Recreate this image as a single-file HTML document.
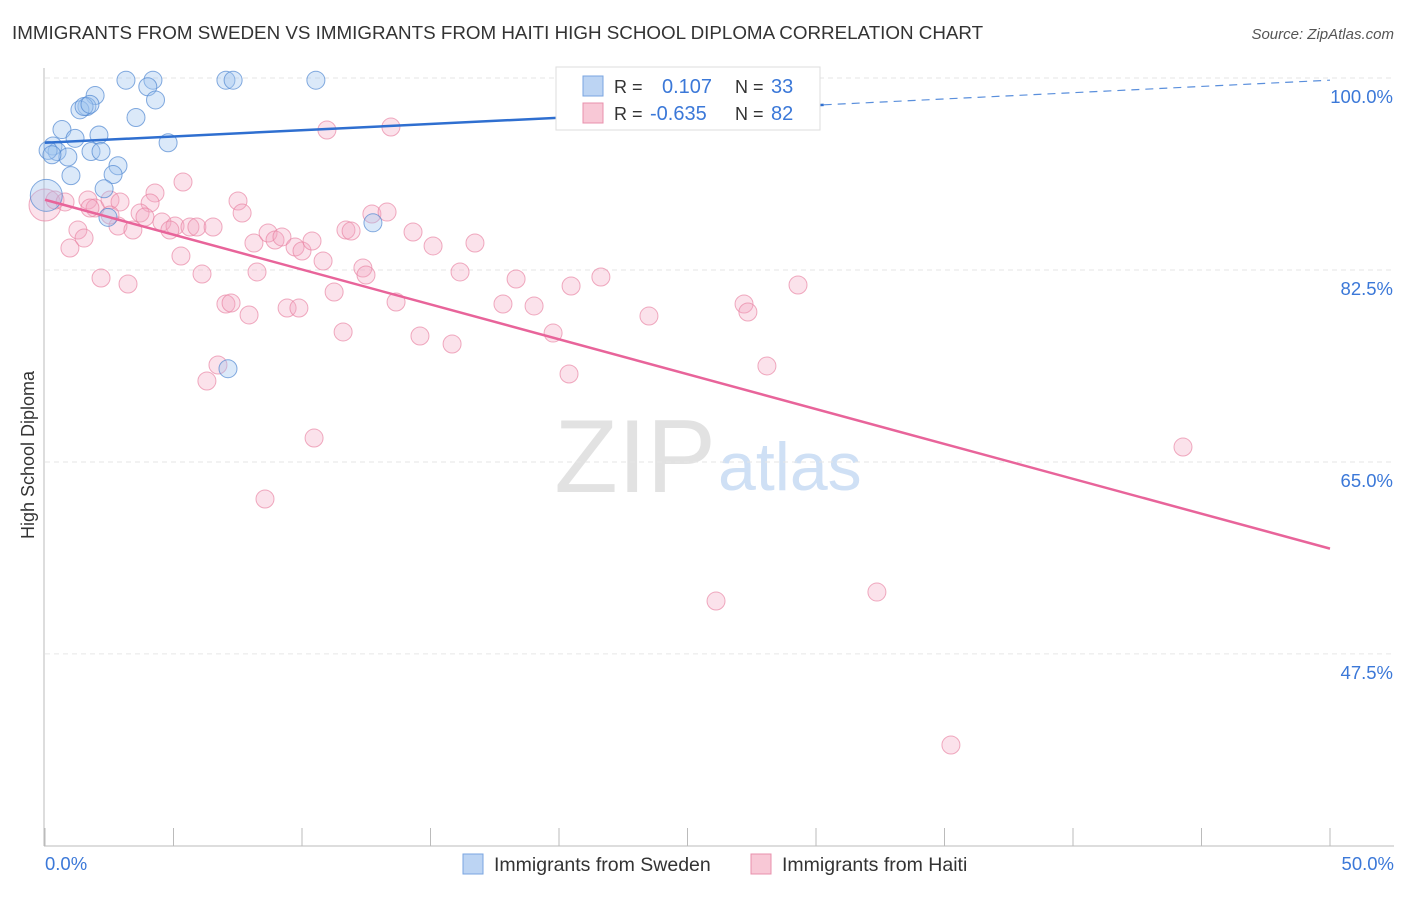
<!DOCTYPE html>
<html><head><meta charset="utf-8"><style>
body{margin:0;background:#fff;font-family:"Liberation Sans",sans-serif;}
svg text{font-family:"Liberation Sans",sans-serif;}
</style></head><body>
<svg id="chart" width="1406" height="892">
<text x="12" y="39" font-size="18.8" fill="#333">IMMIGRANTS FROM SWEDEN VS IMMIGRANTS FROM HAITI HIGH SCHOOL DIPLOMA CORRELATION CHART</text>
<text x="1394" y="39" font-size="15" fill="#555" text-anchor="end" font-style="italic">Source: ZipAtlas.com</text>
<text x="716" y="492" font-size="104" fill="#e2e2e2" text-anchor="end" font-family="Liberation Serif">ZIP</text>
<text x="718" y="490" font-size="68" fill="#cfe0f5">atlas</text>
<g id="grid"></g><g id="axes"></g><g id="pts"></g><g id="lines"></g>
<text transform="translate(34,455) rotate(-90)" font-size="18" fill="#333" text-anchor="middle">High School Diploma</text>
<text x="45" y="870" font-size="18.5" fill="#3b78d8">0.0%</text>
<text x="1394" y="870" font-size="18.5" fill="#3b78d8" text-anchor="end">50.0%</text>
<g>
<rect x="556" y="67" width="264" height="63" fill="#fff" stroke="#ddd"/>
<rect x="583" y="76" width="20" height="20" fill="#bcd4f3" stroke="#7aa5e0"/>
<text x="614" y="93" font-size="18" fill="#333">R = </text><text x="662" y="93" font-size="20" fill="#3b78d8">0.107</text>
<text x="735" y="93" font-size="18" fill="#333">N = </text><text x="771" y="93" font-size="20" fill="#3b78d8">33</text>
<rect x="583" y="103" width="20" height="20" fill="#f8c8d6" stroke="#e890ac"/>
<text x="614" y="120" font-size="18" fill="#333">R = </text><text x="650" y="120" font-size="20" fill="#3b78d8">-0.635</text>
<text x="735" y="120" font-size="18" fill="#333">N = </text><text x="771" y="120" font-size="20" fill="#3b78d8">82</text>
</g>
<g>
<rect x="463" y="854" width="20" height="20" fill="#bcd4f3" stroke="#7aa5e0"/>
<text x="494" y="871" font-size="19.5" fill="#333">Immigrants from Sweden</text>
<rect x="751" y="854" width="20" height="20" fill="#f8c8d6" stroke="#e890ac"/>
<text x="782" y="871" font-size="19.5" fill="#333">Immigrants from Haiti</text>
</g>
</svg>
<script>
const yTicks=[100,82.5,65,47.5];
const yTickLabels=["100.0%","82.5%","65.0%","47.5%"];
const swedenX=[3.15,4.2,7.04,7.32,10.54,4.0,4.3,1.95,1.63,1.36,1.52,3.54,0.66,1.17,2.1,4.79,0.31,0.47,0.89,1.79,2.18,2.84,2.65,1.01,2.3,0.05,2.45,7.12,12.76,26.0,0.12,0.27,1.75];
const swedenY=[99.8,99.8,99.8,99.8,99.8,99.2,98.0,98.4,97.4,97.1,97.4,96.4,95.3,94.5,94.8,94.1,93.8,93.3,92.8,93.3,93.3,92.0,91.2,91.1,89.9,89.3,87.3,73.5,86.8,99.8,93.4,93.0,97.6];
const haitiPx=[[45,205],[55,200],[65,202],[88,200],[95,208],[110,200],[120,202],[155,193],[150,203],[140,213],[145,217],[162,222],[175,226],[190,227],[197,227],[213,227],[170,230],[183,182],[238,201],[242,213],[78,230],[84,238],[70,248],[118,226],[133,230],[101,278],[128,284],[181,256],[202,274],[254,243],[268,233],[275,240],[282,237],[295,247],[302,251],[312,241],[323,261],[257,272],[226,304],[231,303],[249,315],[287,308],[299,308],[334,292],[343,332],[346,230],[351,231],[363,268],[366,275],[372,214],[387,212],[396,302],[413,232],[420,336],[433,246],[452,344],[460,272],[475,243],[503,304],[516,279],[534,306],[553,333],[569,374],[571,286],[601,277],[649,316],[744,304],[748,312],[798,285],[767,366],[218,365],[207,381],[314,438],[265,499],[327,130],[391,127],[716,601],[877,592],[951,745],[1183,447],[110,215],[90,208]];
const haitiX=haitiPx.map(p=>+((p[0]-45)/25.7).toFixed(2));
const haitiY=haitiPx.map(p=>+(100-(p[1]-78)/10.97).toFixed(2));
const swedenTrend=[94.1,99.8];
const haitiTrend=[88.9,57.1];
const X=v=>45+v*25.7, Y=v=>78+(100-v)*10.97;
const NS="http://www.w3.org/2000/svg";
function mk(t,a,p){const e=document.createElementNS(NS,t);for(const k in a)e.setAttribute(k,a[k]);p.appendChild(e);return e;}
const grid=document.getElementById('grid'),axes=document.getElementById('axes');
yTicks.forEach((t,i)=>{
 const l=mk('line',{x1:45,x2:1394,y1:Y(t),y2:Y(t),stroke:'#e6e6e6','stroke-dasharray':'5,4'},grid);
 
 
 const tx=mk('text',{x:1393,y:Y(t)+25,'font-size':18.5,fill:'#3b78d8','text-anchor':'end'},axes);
 tx.textContent=yTickLabels[i];
 
 
});
const ya=mk('line',{x1:44,x2:44,y1:68,y2:846,stroke:'#bbb'},axes);


const xa=mk('line',{x1:44,x2:1394,y1:846,y2:846,stroke:'#bbb'},axes);


for(let i=0;i<=10;i++){const t=mk('line',{x1:X(i*5),x2:X(i*5),y1:828,y2:846,stroke:'#bbb'},axes);
 
 }
const pts=document.getElementById('pts');
haitiX.forEach((x,i)=>{const big=i===0;const c=mk('circle',{cx:X(x),cy:Y(haitiY[i]),r:big?16:9,fill:'rgba(244,165,192,0.32)',stroke:'rgba(232,128,160,0.65)','stroke-width':1},pts);
 
 });
swedenX.forEach((x,i)=>{const big=i===25;const c=mk('circle',{cx:X(x),cy:Y(swedenY[i]),r:big?16:9,fill:'rgba(160,196,240,0.38)',stroke:'rgba(80,135,210,0.7)','stroke-width':1},pts);
 
 });
const lines=document.getElementById('lines');
const s=v=>swedenTrend[0]+(swedenTrend[1]-swedenTrend[0])*v/50;
const b1=mk('line',{x1:X(0),y1:Y(s(0)),x2:X(30.3),y2:Y(s(30.3)),stroke:'#2f6fd0','stroke-width':2.5},lines);


const b2=mk('line',{x1:X(30.3),y1:Y(s(30.3)),x2:X(50),y2:Y(s(50)),stroke:'#5a8fdc','stroke-width':1.2,'stroke-dasharray':'8,6'},lines);


const p1=mk('line',{x1:X(0),y1:Y(haitiTrend[0]),x2:X(50),y2:Y(haitiTrend[1]),stroke:'#e8649a','stroke-width':2.5},lines);


</script>
</body></html>
